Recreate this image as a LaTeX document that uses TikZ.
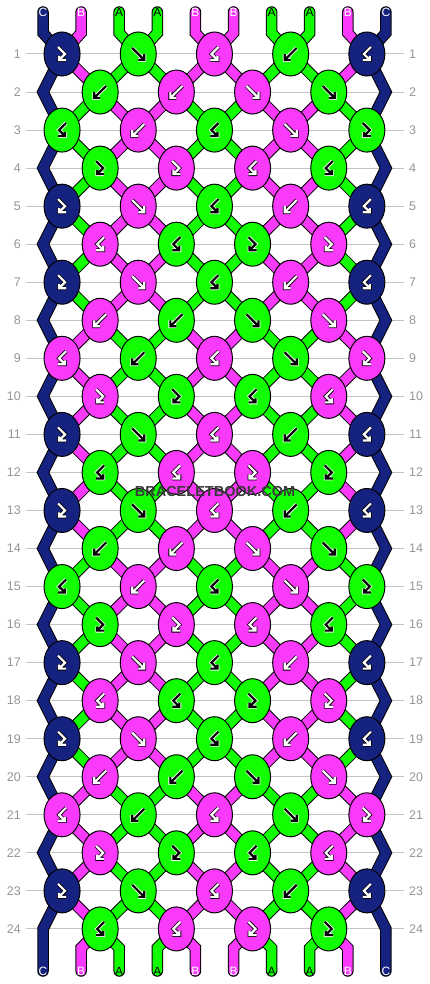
\documentclass[tikz,border=0pt]{standalone}
\usepackage{fontspec}
\setmainfont{Liberation Sans}
\usetikzlibrary{shapes.geometric}
\definecolor{colA}{RGB}{17,255,0}
\definecolor{colB}{RGB}{250,58,250}
\definecolor{colC}{RGB}{22,34,128}
\definecolor{rowgray}{RGB}{195,195,195}
\definecolor{numgray}{RGB}{150,150,150}
\definecolor{stampgray}{RGB}{58,58,58}
\pgfdeclarelayer{grid}
\pgfdeclarelayer{back}
\pgfsetlayers{grid,back,main}
\tikzset{
  knot/.style={ellipse,draw=black,line width=1,minimum width=36,minimum height=44,inner sep=0},
  knotA/.style={knot,fill=colA},
  knotB/.style={knot,fill=colB},
  knotC/.style={knot,fill=colC},
  strand/.style={draw=black,line width=1,double distance=9.5,line cap=round},
  strA/.style={strand,double=colA},
  strB/.style={strand,double=colB},
  strC/.style={strand,double=colC},
  ondark/.style={arrout/.style={black,line width=3.8,line cap=square},arrin/.style={white,line width=2.2,line cap=square}},
  onlight/.style={arrout/.style={white,line width=3.8,line cap=square},arrin/.style={black,line width=2.2,line cap=square}},
  arrA/.style={onlight},
  arrB/.style={ondark},
  arrC/.style={ondark},
  fw/.pic={\foreach \w in {arrout,arrin}{\draw[\w] (-6,-6)--(6,6) (6,0)--(6,6)--(0,6);}},
  bw/.pic={\foreach \w in {arrout,arrin}{\draw[\w] (6,-6)--(-6,6) (-6,0)--(-6,6)--(0,6);}},
  fb/.pic={\foreach \w in {arrout,arrin}{\draw[\w] (-4,-7)--(3,0)--(-3,6) (-3,2)--(-3,6)--(4,6);}},
  bf/.pic={\foreach \w in {arrout,arrin}{\draw[\w] (4,-7)--(-3,0)--(3,6) (3,2)--(3,6)--(-4,6);}},
  tagA/.style={text=black,inner sep=0,font=\fontsize{12}{12}\selectfont},
  tagB/.style={tagA,text=white},
  tagC/.style={tagA,text=white},
  rownum/.style={text=numgray,inner sep=0,font=\fontsize{12.5}{13}\selectfont},
  rowline/.style={draw=rowgray,line width=1},
  stamp/.style={text=stampgray,inner sep=0,font=\bfseries\fontsize{14.5}{14.5}\selectfont}
}
\begin{document}
\begin{tikzpicture}[x=1pt,y=-1pt]
\pgfmathsetmacro{\kx}{38.1}
\pgfmathsetmacro{\ky}{38.04}
\pgfmathsetmacro{\kxl}{43}
\pgfmathsetmacro{\kyt}{54}
\useasboundingbox (0,0) rectangle (430,984);
% knots, twelve rows repeated twice
\foreach \h in {0,12}{
\foreach \q/\ks in {1/{C/fb,A/fw,B/bf,A/bw,C/bf},2/{A/bw,B/bw,B/fw,A/fw},3/{A/bf,B/bw,A/bf,B/fw,A/fb},
  4/{A/fb,B/fb,B/bf,A/bf},5/{C/fb,B/fw,A/bf,B/bw,C/bf},6/{B/bf,A/bf,A/fb,B/fb},
  7/{C/fb,B/fw,A/bf,B/bw,C/bf},8/{B/bw,A/bw,A/fw,B/fw},9/{B/bf,A/bw,B/bf,A/fw,B/fb},
  10/{B/fb,A/fb,A/bf,B/bf},11/{C/fb,A/fw,B/bf,A/bw,C/bf},12/{A/bf,B/bf,B/fb,A/fb}}{
  \pgfmathtruncatemacro{\r}{\q+\h}
  \pgfmathsetmacro{\y}{\kyt+(\r-1)*\ky}
  \pgfmathsetmacro{\x}{\kxl+(mod(\r,2)==1 ? 0.5 : 1.5)*\kx}
  \foreach \c/\t [count=\i from 0] in \ks{
    \node[knot\c] (k\r-\i) at (\x+2*\i*\kx,\y) {};
    \pic[arr\c] at (k\r-\i.center) {\t};
  }
}}
% string ends
\foreach \s [count=\i from 0] in {C,B,A,A,B,B,A,A,B,C}{
  \node[tag\s] (top\i) at (\kxl+\i*\kx,12) {\s};
  \node[tag\s] (bot\i) at (\kxl+\i*\kx,971) {\s};
}
\node[stamp] (stamp) at (215,492) {BRACELETBOOK.COM};
\begin{pgfonlayer}{back}
\foreach \s [count=\i from 0] in {C,B,A,A,B,B,A,A,B,C}{
  \pgfmathtruncatemacro{\c}{floor(\i/2)}
  \coordinate (tb\i) at (\kxl+\i*\kx,33);
  \draw[str\s] (top\i.center) -- (tb\i) -- (k1-\c.center);
  \ifnum\i=0 \def\from{k23-0}\def\yb{929}\else\ifnum\i=9 \def\from{k23-4}\def\yb{929}\else
    \pgfmathtruncatemacro{\c}{floor((\i-1)/2)}\edef\from{k24-\c}\def\yb{948}\fi\fi
  \coordinate (bb\i) at (\kxl+\i*\kx,\yb);
  \draw[str\s] (\from.center) -- (bb\i) -- (bot\i.center);
}
% strings between knots
\foreach \r in {1,...,23}{
  \pgfmathtruncatemacro{\rn}{\r+1}
  \pgfmathtruncatemacro{\s}{mod(\r+10,12)<6}
  \pgfmathtruncatemacro{\odd}{mod(\r,2)}
  \foreach \p in {1,...,8}{
    \pgfmathtruncatemacro{\a}{\odd==1 ? floor(\p/2) : floor((\p-1)/2)}
    \pgfmathtruncatemacro{\b}{\odd==1 ? floor((\p-1)/2) : floor(\p/2)}
    \pgfmathtruncatemacro{\g}{mod((mod(\p,4)>1)+\s,2)}
    \ifnum\g=1 \def\col{A}\else\def\col{B}\fi
    \draw[str\col] (k\r-\a.center) -- (k\rn-\b.center);
  }
}
% edge strings
\foreach \r in {2,4,...,22}{
  \pgfmathtruncatemacro{\ra}{\r-1}
  \pgfmathtruncatemacro{\rb}{\r+1}
  \pgfmathsetmacro{\y}{\kyt+(\r-1)*\ky}
  \coordinate (el\r) at (\kxl,\y);
  \coordinate (er\r) at (\kxl+9*\kx,\y);
  \draw[strC] (k\ra-0.center) -- (el\r) -- (k\rb-0.center);
  \draw[strC] (k\ra-4.center) -- (er\r) -- (k\rb-4.center);
}
\end{pgfonlayer}
\begin{pgfonlayer}{grid}
\foreach \r in {1,...,24}{
  \pgfmathsetmacro{\y}{\kyt+(\r-1)*\ky}
  \node[rownum,anchor=east] (nl\r) at (21,\y) {\r};
  \node[rownum,anchor=west] (nr\r) at (409,\y) {\r};
  \draw[rowline] (26,\y) -- (404,\y);
}
\end{pgfonlayer}
\end{tikzpicture}
\end{document}
